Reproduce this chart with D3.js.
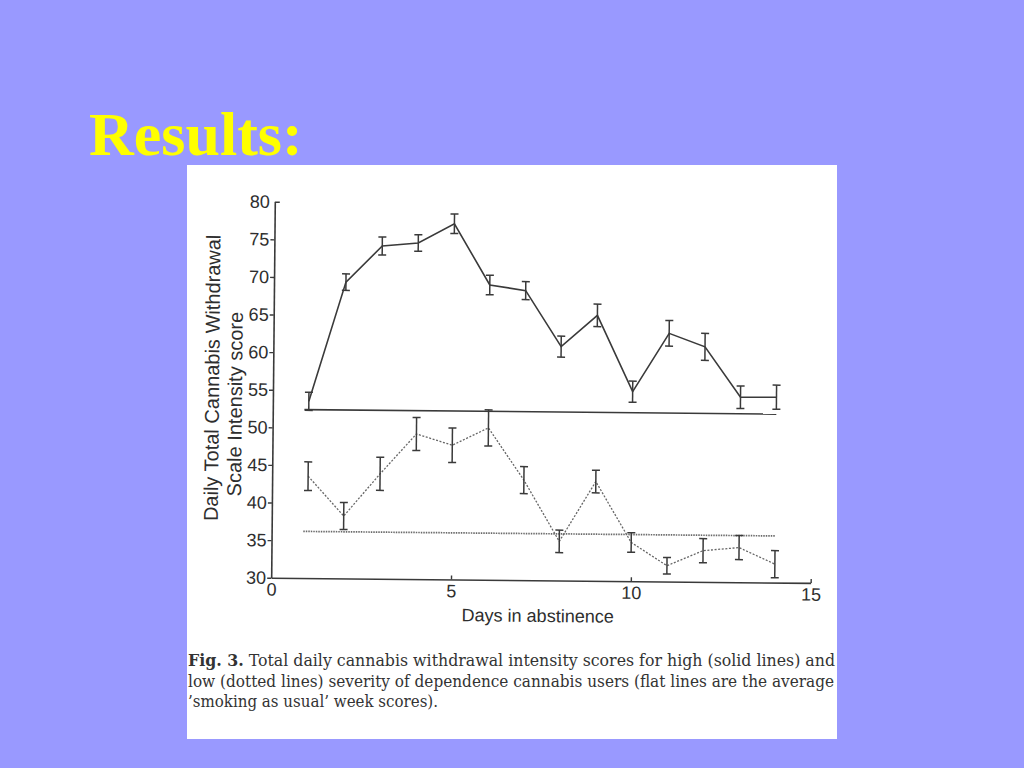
<!DOCTYPE html>
<html>
<head>
<meta charset="utf-8">
<script src="https://cdn.jsdelivr.net/npm/d3@7"></script>
<style>
  html, body { margin: 0; padding: 0; background: #9999ff; }
  svg { display: block; }
</style>
</head>
<body>
<svg id="chart" width="1024" height="768"></svg>
<script>
// ---------- data ----------
const days = [1, 2, 3, 4, 5, 6, 7, 8, 9, 10, 11, 12, 13, 14];
const highMean = [53.5, 69.4, 74.25, 74.7, 77.3, 69.2, 68.5, 61.1, 65.3, 55.2, 63.0, 61.25, 54.6, 54.65];
const highErr  = [1.2, 1.1, 1.2, 1.1, 1.3, 1.3, 1.2, 1.4, 1.5, 1.4, 1.7, 1.8, 1.5, 1.6];
const lowMean  = [43.55, 38.3, 43.95, 49.3, 47.85, 50.2, 43.3, 35.2, 43.2, 35.15, 32.1, 34.15, 34.6, 32.45];
const lowErr   = [1.9, 1.8, 2.2, 2.2, 2.3, 2.4, 1.8, 1.5, 1.5, 1.3, 1.1, 1.6, 1.6, 1.8];
const highUsual = 52.4;   // 'smoking as usual' week average, high dependence
const lowUsual  = 36.2;   // 'smoking as usual' week average, low dependence
const usualSpan = [0.88, 14];
const xTicks = [0, 5, 10, 15];
const yTicks = [30, 35, 40, 45, 50, 55, 60, 65, 70, 75, 80];
const titleText = "Results:";
const xLabel = "Days in abstinence";
const yLabel1 = "Daily Total Cannabis Withdrawal";
const yLabel2 = "Scale Intensity score";
const captionBold = "Fig. 3.";
const captionLines = [
  " Total daily cannabis withdrawal intensity scores for high (solid lines) and",
  "low (dotted lines) severity of dependence cannabis users (flat lines are the average",
  "\u2019smoking as usual\u2019 week scores)."
];

// ---------- drawing ----------
const svg = d3.select("#chart");
const ink = "#3a3a3a";
const sans = "'Liberation Sans', Arial, sans-serif";

svg.append("text")
  .attr("x", 89).attr("y", 155)
  .attr("font-family", "'Liberation Serif', 'Times New Roman', serif")
  .attr("font-weight", "bold")
  .attr("font-size", 62)
  .attr("fill", "#ffff00")
  .text(titleText);

svg.append("rect")
  .attr("x", 187).attr("y", 165)
  .attr("width", 650).attr("height", 574)
  .attr("fill", "#ffffff");

const x = d3.scaleLinear().domain([0, 15]).range([273, 812.5]);
const y = d3.scaleLinear().domain([30, 80]).range([580.3, 204.3]);

const g = svg.append("g").attr("transform", "rotate(0.55, 541, 390)");

// axes
const yAxis = d3.axisLeft(y).tickValues(yTicks).tickSizeInner(4).tickSizeOuter(0).tickPadding(1);
const yg = g.append("g").attr("transform", `translate(${x(0)},0)`).call(yAxis);
const xAxis = d3.axisBottom(x).tickValues(xTicks).tickSizeInner(-4).tickSizeOuter(0).tickPadding(5);
const xg = g.append("g").attr("transform", `translate(0,${y(30)})`).call(xAxis);

[yg, xg].forEach(a => {
  a.select(".domain").attr("stroke", ink).attr("stroke-width", 1.6);
  a.selectAll(".tick line").attr("stroke", ink).attr("stroke-width", 1.4);
  a.selectAll(".tick text")
    .attr("font-family", sans).attr("font-size", 18).attr("fill", "#2e2e2e");
});
yg.selectAll(".tick").filter(d => d === 80).select("line").attr("x2", 5);
xg.selectAll(".tick").filter(d => d === 0).select("line").remove();

// axis titles
g.append("text")
  .attr("x", x(7.42)).attr("y", 622)
  .attr("text-anchor", "middle")
  .attr("font-family", sans).attr("font-size", 18).attr("fill", "#2e2e2e")
  .text(xLabel);

g.append("text")
  .attr("transform", "translate(219,381) rotate(-90)")
  .attr("text-anchor", "middle")
  .attr("font-family", sans).attr("font-size", 20).attr("fill", "#2e2e2e")
  .text(yLabel1);
g.append("text")
  .attr("transform", "translate(242,407) rotate(-90)")
  .attr("text-anchor", "middle")
  .attr("font-family", sans).attr("font-size", 20).attr("fill", "#2e2e2e")
  .text(yLabel2);

// flat 'usual' lines
g.append("line")
  .attr("x1", x(usualSpan[0])).attr("x2", x(usualSpan[1]))
  .attr("y1", y(highUsual)).attr("y2", y(highUsual))
  .attr("stroke", ink).attr("stroke-width", 1.6);
g.append("line")
  .attr("x1", x(usualSpan[0])).attr("x2", x(usualSpan[1]))
  .attr("y1", y(lowUsual)).attr("y2", y(lowUsual))
  .attr("stroke", "#6a6a6a").attr("stroke-width", 1.7)
  .attr("stroke-dasharray", "1.5,1");

const line = d3.line().x(d => x(d[0])).y(d => y(d[1]));
const high = days.map((d, i) => [d, highMean[i], highErr[i]]);
const low = days.map((d, i) => [d, lowMean[i], lowErr[i]]);

g.append("path").datum(high).attr("d", line)
  .attr("fill", "none").attr("stroke", ink).attr("stroke-width", 1.6);
g.append("path").datum(low).attr("d", line)
  .attr("fill", "none").attr("stroke", "#666").attr("stroke-width", 1.3)
  .attr("stroke-dasharray", "2,1.6");

function errorBars(data, cls) {
  const eb = g.append("g").attr("class", cls)
    .attr("stroke", ink).attr("stroke-width", 1.5).attr("fill", "none");
  const sel = eb.selectAll("g").data(data).join("g");
  sel.append("line")
    .attr("x1", d => x(d[0])).attr("x2", d => x(d[0]))
    .attr("y1", d => y(d[1] + d[2])).attr("y2", d => y(d[1] - d[2]));
  [1, -1].forEach(s => {
    sel.append("line")
      .attr("x1", d => x(d[0]) - 4).attr("x2", d => x(d[0]) + 4)
      .attr("y1", d => y(d[1] + s * d[2])).attr("y2", d => y(d[1] + s * d[2]));
  });
}
errorBars(high, "eb-high");
errorBars(low, "eb-low");

// caption
const serif = "'DejaVu Serif', 'Liberation Serif', serif";
const capW = [647, 646, 250];
captionLines.forEach((t, i) => {
  const tx = svg.append("text")
    .attr("x", 188).attr("y", 666 + i * 20.5)
    .attr("font-family", serif).attr("font-size", 16)
    .attr("fill", "#333")
    .attr("textLength", capW[i]).attr("lengthAdjust", "spacingAndGlyphs");
  if (i === 0) tx.append("tspan").attr("font-weight", "bold").text(captionBold);
  tx.append("tspan").text(t);
});
</script>
</body>
</html>
